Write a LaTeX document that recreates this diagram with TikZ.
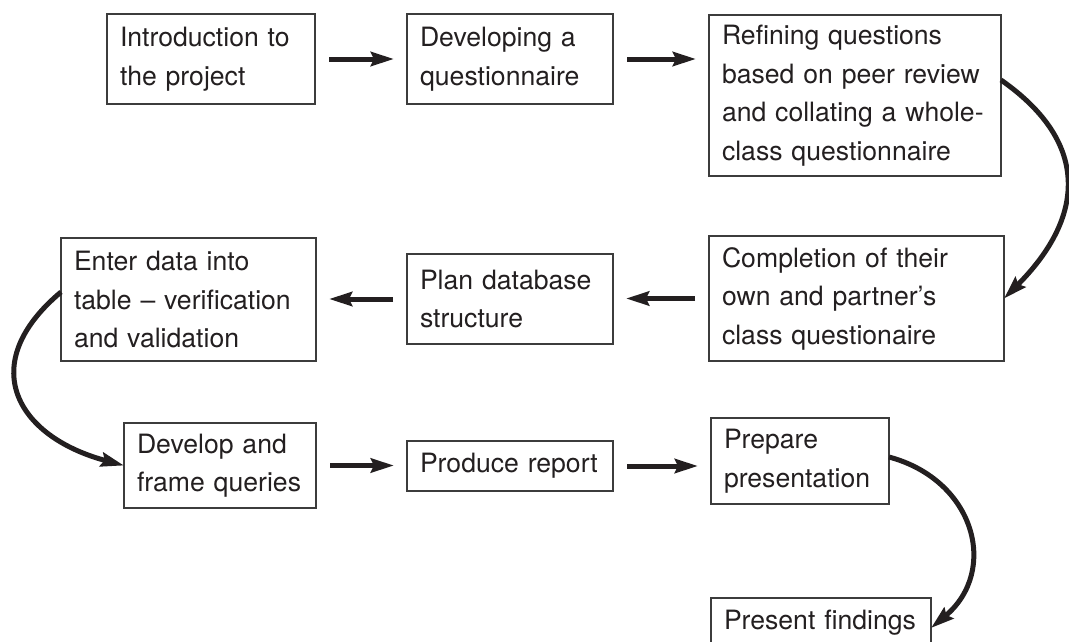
\documentclass[tikz,border=0pt]{standalone}
\usepackage{fontspec}
\setmainfont{TeX Gyre Heros}
\usetikzlibrary{arrows.meta}
\definecolor{ink}{HTML}{231F20}
\definecolor{edge}{HTML}{3C3C3C}
\tikzset{
  box/.style={draw=edge, line width=1.1pt, anchor=north west, align=left,
    inner xsep=13pt, inner ysep=0pt, outer sep=0pt, text=ink,
    font=\fontsize{26.6}{38.5}\selectfont},
  arr/.style={draw=ink, line width=5pt,
    -{Stealth[length=23pt,width=14pt,inset=3pt]}},
  sarr/.style={arr, shorten <=14pt, shorten >=13pt}
}
\begin{document}
\begin{tikzpicture}[x=1pt,y=1pt]
\clip (0,0) rectangle (1069,-641);
\fill[white] (0,0) rectangle (1069,-641);

\node[box, text width=182pt, minimum height=90pt]  (B1) at (107,-14)  {Introduction to\\the project};
\node[box, text width=180pt, minimum height=90pt]  (B2) at (407,-14)  {Developing a\\questionnaire};
\node[box, text width=266pt, minimum height=161pt] (B3) at (709,-15)  {Refining questions\\based on peer review\\and collating a whole-\\class questionnaire};
\node[box, text width=269pt, minimum height=125pt] (B4) at (709,-236) {Completion of their\\own and partner’s\\class questionaire};
\node[box, text width=180pt, minimum height=90pt]  (B5) at (407,-254) {Plan database\\structure};
\node[box, text width=229pt, minimum height=123pt] (B6) at (61,-238)  {Enter data into\\table – verification\\and validation};
\node[box, text width=166pt, minimum height=85pt]  (B7) at (124,-423) {Develop and\\frame queries};
\node[box, text width=180pt, minimum height=50pt]  (B8) at (407,-441) {Produce report};
\node[box, text width=152pt, minimum height=86pt]  (B9) at (711,-418) {Prepare\\presentation};
\node[box, text width=196pt, inner xsep=12pt, minimum height=50pt]  (B10) at (711,-598) {\hspace*{1pt}Present findings};

\draw[sarr] (B1.east) -- (B1.east -| B2.west);
\draw[sarr] (B2.east) -- (B2.east -| B3.west);
\draw[sarr] (B4.west) -- (B4.west -| B5.east);
\draw[sarr] (B5.west) -- (B5.west -| B6.east);
\draw[sarr] (B7.east) -- (B7.east -| B8.west);
\draw[sarr] (B8.east) -- (B8.east -| B9.west);

\draw[arr] ([yshift=15.5pt]B3.east) .. controls +(-35:112pt) and +(45:112pt) .. (B4.east);
\draw[arr] ([yshift=7.5pt]B6.west) .. controls +(220:112pt) and +(165:112pt) .. (B7.west);
\draw[arr] ([yshift=4pt]B9.east) .. controls +(-15:89pt) and +(40:89pt) .. ([yshift=-5pt]B10.east);
\end{tikzpicture}
\end{document}
